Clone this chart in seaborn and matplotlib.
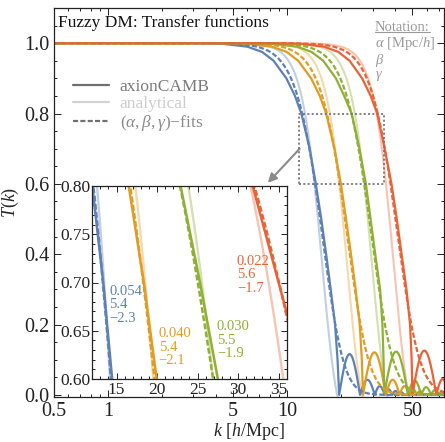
import numpy as np
import pandas as pd
import matplotlib
matplotlib.use("Agg")
import matplotlib.pyplot as plt
import seaborn as sns
from matplotlib.lines import Line2D
from matplotlib.ticker import FixedLocator, FixedFormatter, NullFormatter, MultipleLocator, FormatStrFormatter

# ---------------- data ----------------
models = ["m1", "m2", "m3", "m4"]
colors = ["#5E81B5", "#E19C24", "#8FB032", "#EB6235"]

# (alpha, beta, gamma) fits, as printed in the inset
alpha_fit = [0.054, 0.040, 0.030, 0.022]
beta_fit = [5.4, 5.4, 5.5, 5.6]
gamma_fit = [-2.3, -2.1, -1.9, -1.7]

# analytical curves: scale k_J [h/Mpc] of cos(x^3)/(1+x^8), x = k/k_J
k_jeans = [16.35, 22.5, 31.0, 41.0]

# axionCAMB: k at which T reaches these levels (main fall-off)
T_levels = [1.0, 1.0, 0.998, 0.99, 0.975, 0.95, 0.9, 0.85, 0.8, 0.7, 0.6, 0.5, 0.4, 0.3, 0.2, 0.1, 0.0]
k_camb_blue = [0.5, 3.0, 4.4, 6.0, 7.25, 8.4, 9.9, 11.05, 12.0, 13.35, 14.45, 15.5, 16.5, 17.5, 18.5, 19.1, 19.5]
k_camb_orange = [0.5, 4.1, 6.0, 8.24, 9.95, 11.53, 13.6, 15.2, 16.5, 18.36, 19.95, 21.3, 22.7, 24.1, 25.4, 26.1, 26.5]
k_camb_green = [0.5, 5.7, 8.35, 11.4, 13.7, 15.9, 18.7, 20.8, 22.9, 25.3, 27.5, 29.2, 31.0, 33.0, 34.0, 34.5, 34.8]
k_camb_red = [0.5, 8.1, 11.9, 16.1, 19.3, 22.3, 26.2, 29.25, 31.8, 35.0, 38.2, 40.9, 43.5, 46.3, 48.5, 49.5, 50.0]
# axionCAMB oscillation tail: zero crossings and bump heights
zeros_blue = [19.5, 25.5, 30.8, 35.0, 38.6, 41.8, 44.8]
peaks_blue = [0.116, 0.043, 0.025, 0.016, 0.011, 0.008]
zeros_orange = [26.5, 35.5, 42.4, 48.0, 52.9, 57.3]
peaks_orange = [0.121, 0.043, 0.025, 0.016, 0.011]
zeros_green = [34.8, 47.2, 56.0, 63.5, 70.2, 76.0]
peaks_green = [0.123, 0.041, 0.022, 0.014, 0.010]
zeros_red = [50.0, 67.9, 80.0]
peaks_red = [0.126, 0.045]

# zoom box (main panel) and inset ranges
box_k = [11.7, 34.6]
box_T = [0.6, 0.8]
inset_k = [12.0, 36.0]
inset_T = [0.6, 0.8]

# inset labels position (left edge, middle line)
label_k = [14.07, 20.2, 27.37, 29.85]
label_T = [0.677, 0.633, 0.640, 0.708]

main_xticks = [0.5, 1, 5, 10, 50]
main_xticklabels = ["0.5", "1", "5", "10", "50"]
main_xminor = [0.6, 0.7, 0.8, 0.9, 2, 3, 4, 6, 7, 8, 9, 20, 30, 40, 60, 70]
main_yticks = [0.0, 0.2, 0.4, 0.6, 0.8, 1.0]
inset_xticks = [15, 20, 25, 30, 35]
inset_yticks = [0.60, 0.65, 0.70, 0.75, 0.80]

# ---------------- build tables ----------------
k_grid = np.geomspace(0.5, 80, 900)

fit_rows = []
ana_rows = []
camb_rows = []
k_camb = [k_camb_blue, k_camb_orange, k_camb_green, k_camb_red]
zeros_all = [zeros_blue, zeros_orange, zeros_green, zeros_red]
peaks_all = [peaks_blue, peaks_orange, peaks_green, peaks_red]
for i, m in enumerate(models):
    T_fit = (1.0 + (alpha_fit[i] * k_grid) ** beta_fit[i]) ** gamma_fit[i]
    fit_rows.append(pd.DataFrame({"k": k_grid, "T": T_fit, "model": m}))

    x = k_grid / k_jeans[i]
    sel = x <= 1.22
    T_ana = np.cos(x[sel] ** 3) / (1.0 + x[sel] ** 8)
    ana_rows.append(pd.DataFrame({"k": k_grid[sel], "T": T_ana, "model": m}))

    ks = list(k_camb[i])
    Ts = list(T_levels)
    z = zeros_all[i]
    for z0, z1, p in zip(z[:-1], z[1:], peaks_all[i]):
        lk = np.linspace(np.log(z0), np.log(z1), 30)[1:]
        f = (lk - np.log(z0)) / (np.log(z1) - np.log(z0))
        ks += list(np.exp(lk))
        Ts += list(p * np.sin(np.pi * f))
    if ks[-1] < 80:
        ks.append(80.0)
        Ts.append(0.003)
    camb_rows.append(pd.DataFrame({"k": ks, "T": Ts, "model": m}))

fit_df = pd.concat(fit_rows, ignore_index=True)
ana_df = pd.concat(ana_rows, ignore_index=True)
camb_df = pd.concat(camb_rows, ignore_index=True)

# ---------------- style ----------------
sns.set_theme(style="ticks")
plt.rcParams.update({
    "font.family": ["Liberation Serif", "DejaVu Serif"],
    "mathtext.fontset": "custom",
    "mathtext.rm": "Liberation Serif",
    "mathtext.it": "Liberation Serif:italic",
    "mathtext.bf": "Liberation Serif:bold",
    "axes.linewidth": 0.9,
    "axes.edgecolor": "#222222",
    "text.color": "#111111",
    "xtick.color": "#222222",
    "ytick.color": "#222222",
})

fig = plt.figure(figsize=(4.45, 4.42), dpi=100)
ax = fig.add_axes([54 / 445, 1 - 397 / 442, 390 / 445, 389 / 442])
axin = fig.add_axes([92.3 / 445, 1 - 379 / 442, 194.4 / 445, 193 / 442])
axin.set_zorder(5)
axin.set_facecolor("white")

pal = dict(zip(models, colors))
DASH = (0, (2.3, 1.0))


def draw(a, lw):
    sns.lineplot(data=ana_df, x="k", y="T", hue="model", palette=pal, estimator=None,
                 sort=False, legend=False, ax=a, lw=lw - 0.1, alpha=0.38)
    sns.lineplot(data=camb_df, x="k", y="T", hue="model", palette=pal, estimator=None,
                 sort=False, legend=False, ax=a, lw=lw)
    n0 = len(a.get_lines())
    sns.lineplot(data=fit_df, x="k", y="T", hue="model", palette=pal, estimator=None,
                 sort=False, legend=False, ax=a, lw=lw)
    for ln in a.get_lines()[n0:]:
        ln.set_linestyle(DASH)
    a.set_xlabel("")
    a.set_ylabel("")


draw(ax, 1.6)
draw(axin, 1.8)

# ---- main axes ----
ax.set_xscale("log")
ax.set_xlim(0.5, 75)
ax.set_ylim(-0.006, 1.1)
ax.xaxis.set_major_locator(FixedLocator(main_xticks))
ax.xaxis.set_major_formatter(FixedFormatter(main_xticklabels))
ax.xaxis.set_minor_locator(FixedLocator(main_xminor))
ax.xaxis.set_minor_formatter(NullFormatter())
ax.yaxis.set_major_locator(FixedLocator(main_yticks))
ax.yaxis.set_major_formatter(FormatStrFormatter("%.1f"))
ax.yaxis.set_minor_locator(MultipleLocator(0.05))
ax.tick_params(which="both", direction="in", top=True, right=True, width=0.7)
ax.tick_params(which="major", length=5, labelsize=14.5, pad=3)
ax.tick_params(which="minor", length=2.5)
ax.tick_params(axis="x", which="major", pad=3.5)

ax.set_xlabel(r"$k$ [$h$/Mpc]", fontsize=13)
ax.xaxis.set_label_coords(0.5, -0.062)
ax.set_ylabel(r"$T(k)$", fontsize=13)
ax.yaxis.set_label_coords(-0.085, 0.5)

# zoom box and arrow
ax.plot([box_k[0], box_k[1], box_k[1], box_k[0], box_k[0]],
        [box_T[0], box_T[0], box_T[1], box_T[1], box_T[0]],
        ls=(0, (1.1, 1.3)), lw=1.3, color="#777777", zorder=6)
ax.annotate("", xy=(7.8, 0.603), xytext=(11.75, 0.70),
            arrowprops=dict(arrowstyle="-|>", color="#8a8a8a", lw=1.5, mutation_scale=13,
                            shrinkA=0, shrinkB=0), zorder=7)

# title
ax.text(0.0103, 0.961, "Fuzzy DM: Transfer functions", transform=ax.transAxes,
        ha="left", va="center", fontsize=12.5, color="#111111")

# legend
handles = [Line2D([], [], color="#707070", lw=1.6),
           Line2D([], [], color="#d2d2d2", lw=1.6),
           Line2D([], [], color="#707070", lw=1.6, ls=DASH)]
labels = ["axionCAMB", "analytical", r"$(\alpha,\beta,\gamma)$" + "\u2212fits"]
leg = ax.legend(handles, labels, loc="center left", bbox_to_anchor=(0.0487, 0.748),
                frameon=False, borderpad=0, borderaxespad=0, handlelength=2.1,
                handletextpad=0.6, labelspacing=0.05, fontsize=12.5)
for t, c in zip(leg.get_texts(), ["#7a7a7a", "#cccccc", "#8a8a8a"]):
    t.set_color(c)

# notation block
notation = ["Notation:", r"$\alpha$ [Mpc/$h$]", r"$\beta$", r"$\gamma$"]
ny = [0.951, 0.910, 0.866, 0.825]
ntexts = []
for s, yy in zip(notation, ny):
    ntexts.append(ax.text(0.823, yy, s, transform=ax.transAxes, ha="left", va="center",
                          fontsize=10.5, color="#9a9a9a"))

# ---- inset axes ----
axin.set_xlim(*inset_k)
axin.set_ylim(*inset_T)
axin.xaxis.set_major_locator(FixedLocator(inset_xticks))
axin.xaxis.set_minor_locator(MultipleLocator(1))
axin.yaxis.set_major_locator(FixedLocator(inset_yticks))
axin.yaxis.set_major_formatter(FormatStrFormatter("%.2f"))
axin.yaxis.set_minor_locator(MultipleLocator(0.01))
axin.tick_params(which="both", direction="in", top=True, right=True, width=0.7)
axin.tick_params(which="major", length=4, labelsize=12.5)
axin.tick_params(which="minor", length=2)
axin.tick_params(axis="y", which="major", pad=1.5)
axin.tick_params(axis="x", which="major", pad=2.5)
for sp in axin.spines.values():
    sp.set_linewidth(0.9)

for i in range(len(models)):
    g = gamma_fit[i]
    gs = ("\u2212" if g < 0 else "") + f"{abs(g):.1f}"
    s = f"{alpha_fit[i]:.3f}\n{beta_fit[i]:.1f}\n{gs}"
    axin.text(label_k[i], label_T[i], s, ha="left", va="center", fontsize=10.5,
              color=colors[i], linespacing=1.05)

# underline "Notation:"
fig.canvas.draw()
r = fig.canvas.get_renderer()
bb = ntexts[0].get_window_extent(r)
inv = ax.transAxes.inverted()
(x0, y0) = inv.transform((bb.x0, bb.y0 + 2))
(x1, _) = inv.transform((bb.x1, bb.y0 + 2))
ax.plot([x0, x1], [y0, y0], transform=ax.transAxes, color="#9a9a9a", lw=0.8, clip_on=False)

fig.savefig("out.png", dpi=100)
